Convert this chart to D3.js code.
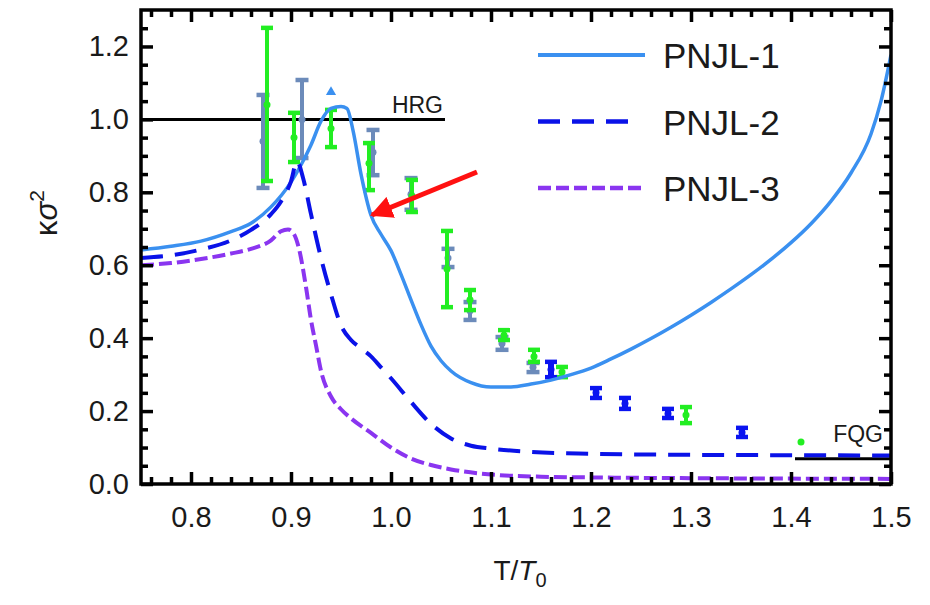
<!DOCTYPE html>
<html>
<head>
<meta charset="utf-8">
<script src="https://cdn.jsdelivr.net/npm/d3@7"></script>
<style>
  body { margin: 0; background: #fff; }
  text { font-family: "Liberation Sans", Arial, sans-serif; fill: #1a1a1a; }
</style>
</head>
<body>
<div id="chart"></div>
<script>
// axis ticks
const tTicks = [0.8, 0.9, 1.0, 1.1, 1.2, 1.3, 1.4, 1.5];
const kTicks = [0.0, 0.2, 0.4, 0.6, 0.8, 1.0, 1.2];
const tMinor = [0.76, 0.78, 0.82, 0.84, 0.86, 0.88, 0.92, 0.94, 0.96, 0.98, 1.02, 1.04, 1.06, 1.08,
  1.12, 1.14, 1.16, 1.18, 1.22, 1.24, 1.26, 1.28, 1.32, 1.34, 1.36, 1.38, 1.42, 1.44, 1.46, 1.48];
const kMinor = [0.05, 0.1, 0.15, 0.25, 0.3, 0.35, 0.45, 0.5, 0.55, 0.65, 0.7, 0.75, 0.85, 0.9, 0.95,
  1.05, 1.1, 1.15, 1.25];

// model curves [T/T0, kappa sigma^2]
const pnjl1 = [[0.75,0.642],[0.78,0.652],[0.81,0.666],[0.84,0.692],[0.86,0.715],[0.88,0.76],[0.90,0.828],
  [0.91,0.875],[0.92,0.93],[0.93,0.995],[0.94,1.03],[0.95,1.035],[0.956,1.03],[0.962,0.97],[0.97,0.85],
  [0.98,0.737],[0.99,0.685],[1.00,0.64],[1.01,0.575],[1.02,0.505],[1.03,0.437],[1.04,0.378],[1.05,0.338],
  [1.06,0.31],[1.08,0.278],[1.10,0.266],[1.12,0.266],[1.14,0.274],[1.16,0.285],[1.18,0.3],[1.20,0.318],
  [1.22,0.343],[1.24,0.37],[1.26,0.399],[1.28,0.43],[1.30,0.463],[1.32,0.498],[1.34,0.535],[1.36,0.574],
  [1.38,0.616],[1.40,0.662],[1.42,0.714],[1.44,0.776],[1.46,0.853],[1.48,0.96],[1.49,1.05],[1.50,1.177]];
const pnjl2 = [[0.75,0.62],[0.78,0.627],[0.81,0.643],[0.84,0.668],[0.86,0.697],[0.88,0.74],[0.89,0.775],
  [0.90,0.83],[0.906,0.885],[0.912,0.84],[0.92,0.74],[0.93,0.62],[0.94,0.52],[0.95,0.435],[0.96,0.395],
  [0.97,0.372],[0.98,0.35],[0.99,0.32],[1.00,0.29],[1.02,0.225],[1.04,0.165],[1.06,0.125],[1.08,0.105],
  [1.10,0.097],[1.14,0.088],[1.20,0.083],[1.30,0.08],[1.40,0.079],[1.50,0.078]];
const pnjl3 = [[0.75,0.6],[0.78,0.606],[0.81,0.617],[0.84,0.632],[0.86,0.645],[0.88,0.668],[0.89,0.693],
  [0.897,0.698],[0.903,0.685],[0.908,0.645],[0.915,0.54],[0.92,0.45],[0.925,0.38],[0.93,0.31],[0.94,0.24],
  [0.95,0.205],[0.96,0.18],[0.98,0.14],[1.00,0.1],[1.02,0.07],[1.04,0.052],[1.06,0.04],[1.10,0.026],
  [1.15,0.02],[1.20,0.018],[1.30,0.016],[1.50,0.014]];

// data points [T/T0, value, low, high]
const greenPts = [[0.876,1.04,0.831,1.251],[0.903,0.95,0.883,1.018],[0.94,0.975,0.924,1.026],
  [0.978,0.88,0.806,0.935],[1.021,0.79,0.746,0.834],[1.056,0.59,0.485,0.694],[1.079,0.505,0.477,0.532],
  [1.113,0.408,0.395,0.422],[1.143,0.35,0.335,0.368],[1.171,0.307,0.293,0.321],[1.295,0.189,0.167,0.211],
  [1.41,0.115,0.115,0.115]];
const grayPts = [[0.872,0.94,0.812,1.067],[0.911,1.0,0.894,1.108],[0.982,0.91,0.847,0.971],
  [1.02,0.795,0.752,0.839],[1.057,0.62,0.595,0.645],[1.079,0.475,0.45,0.499],[1.111,0.385,0.368,0.403],
  [1.142,0.32,0.307,0.332]];
const bluePts = [[1.16,0.314,0.293,0.335],[1.205,0.25,0.236,0.263],[1.234,0.221,0.206,0.236],
  [1.277,0.193,0.181,0.206],[1.351,0.141,0.129,0.154]];
const starPt = [0.94, 1.075];

// limits
const hrgLine = [[0.75, 1.0], [1.054, 1.0]];
const fqgLine = [[1.404, 0.069], [1.5, 0.069]];

const legendNames = ["PNJL-1", "PNJL-2", "PNJL-3"];

const width = 930, height = 605;
const margin = { top: 10, right: 39, bottom: 121, left: 141 };

const svg = d3.select("#chart").append("svg")
  .attr("width", width).attr("height", height);

const x = d3.scaleLinear().domain([0.75, 1.5]).range([margin.left, width - margin.right]);
const y = d3.scaleLinear().domain([0, 1.3]).range([height - margin.bottom, margin.top]);

svg.append("clipPath").attr("id", "clip").append("rect")
  .attr("x", x(0.75)).attr("y", y(1.3))
  .attr("width", x(1.5) - x(0.75)).attr("height", y(0) - y(1.3));

const plot = svg.append("g").attr("clip-path", "url(#clip)");

const line = d3.line().x(d => x(d[0])).y(d => y(d[1])).curve(d3.curveMonotoneX);

// HRG / FQG lines
[hrgLine, fqgLine].forEach(l => {
  plot.append("path").attr("d", d3.line().x(d => x(d[0])).y(d => y(d[1]))(l))
    .attr("stroke", "#000").attr("stroke-width", 3).attr("fill", "none");
});

// error bars
function errorBars(data, color, cap, sw) {
  const g = plot.append("g").attr("stroke", color).attr("fill", color);
  data.forEach(d => {
    const cx = x(d[0]);
    if (d[2] !== d[3]) {
      g.append("line").attr("x1", cx).attr("x2", cx).attr("y1", y(d[2])).attr("y2", y(d[3])).attr("stroke-width", sw);
      [d[2], d[3]].forEach(v => {
        g.append("line").attr("x1", cx - cap / 2).attr("x2", cx + cap / 2)
          .attr("y1", y(v)).attr("y2", y(v)).attr("stroke-width", 4.5);
      });
    }
    g.append("circle").attr("cx", cx).attr("cy", y(d[1])).attr("r", 3.5).attr("stroke", "none");
  });
}
errorBars(grayPts, "#6c8bba", 13, 4);
errorBars(greenPts, "#22ee22", 12, 4);
errorBars(bluePts, "#0a14f0", 12, 6);

plot.append("path")
  .attr("d", d3.symbol(d3.symbolTriangle, 45)())
  .attr("transform", `translate(${x(starPt[0])},${y(starPt[1])})`)
  .attr("fill", "#3a90f0");

// model curves
const styles = [
  { data: pnjl1, color: "#3a90f0", dash: null, w: 3.5 },
  { data: pnjl2, color: "#0a12e8", dash: "22,12", w: 4 },
  { data: pnjl3, color: "#8a35f0", dash: "13,5", w: 4 }
];
styles.forEach(s => {
  plot.append("path").attr("d", line(s.data))
    .attr("fill", "none").attr("stroke", s.color)
    .attr("stroke-width", s.w).attr("stroke-dasharray", s.dash);
});

svg.append("text").attr("x", x(1.054) - 2).attr("y", y(1.0) - 6)
  .attr("text-anchor", "end").style("font-size", "23px").text("HRG");
svg.append("text").attr("x", x(1.5) - 8).attr("y", y(0.069) - 17)
  .attr("text-anchor", "end").style("font-size", "23px").text("FQG");

// red arrow
svg.append("defs").append("marker").attr("id", "arrow")
  .attr("viewBox", "0 0 10 10").attr("refX", 9).attr("refY", 5)
  .attr("markerWidth", 4.5).attr("markerHeight", 4.5).attr("orient", "auto")
  .append("path").attr("d", "M0,0L10,5L0,10z").attr("fill", "#ff1111");
svg.append("line").attr("x1", 477).attr("y1", 172).attr("x2", 372).attr("y2", 215)
  .attr("stroke", "#ff1111").attr("stroke-width", 5).attr("marker-end", "url(#arrow)");

// axes: labels on bottom/left, inward ticks on all four sides
function tickAxis(axisFn, scale, pos, labels) {
  const g = svg.append("g").attr("transform", pos);
  g.append("g").call(axisFn(scale).tickValues(scale === x ? tMinor : kMinor).tickSizeInner(-7).tickSizeOuter(0).tickFormat(() => ""));
  g.append("g").call(axisFn(scale).tickValues(scale === x ? tTicks : kTicks).tickSizeInner(-12).tickSizeOuter(0)
    .tickPadding(labels ? (scale === x ? 22 : 12) : 0)
    .tickFormat(labels ? d3.format(".1f") : () => ""));
  g.selectAll(".domain").remove();
  g.selectAll(".tick line").attr("stroke", "#000").attr("stroke-width", 3.5);
  g.selectAll(".tick text").style("font-size", "29px").attr("fill", "#1a1a1a");
}
tickAxis(d3.axisBottom, x, `translate(0,${y(0)})`, true);
tickAxis(d3.axisTop, x, `translate(0,${y(1.3)})`, false);
tickAxis(d3.axisLeft, y, `translate(${x(0.75)},0)`, true);
tickAxis(d3.axisRight, y, `translate(${x(1.5)},0)`, false);

// frame
svg.append("rect")
  .attr("x", x(0.75)).attr("y", y(1.3))
  .attr("width", x(1.5) - x(0.75)).attr("height", y(0) - y(1.3))
  .attr("fill", "none").attr("stroke", "#000").attr("stroke-width", 3.5);

// legend
const lg = svg.append("g");
styles.forEach((s, i) => {
  const ly = 55 + i * 66.5;
  lg.append("line").attr("x1", 538).attr("x2", s.dash === "22,12" ? 633 : 645)
    .attr("y1", ly).attr("y2", ly)
    .attr("stroke", s.color).attr("stroke-width", s.w + 0.5).attr("stroke-dasharray", s.dash);
  lg.append("text").attr("x", 663).attr("y", ly + 13).style("font-size", "35px").text(legendNames[i]);
});

// axis titles
const xt = svg.append("text").attr("x", 520).attr("y", 580).attr("text-anchor", "middle").style("font-size", "28px");
xt.append("tspan").text("T/");
xt.append("tspan").style("font-style", "italic").text("T");
xt.append("tspan").attr("dy", 7).style("font-size", "20px").text("0");

const yt = svg.append("text").attr("transform", "translate(57,213) rotate(-90)")
  .attr("text-anchor", "middle").style("font-size", "31px");
yt.append("tspan").text("κ");
yt.append("tspan").style("font-style", "italic").text("σ");
yt.append("tspan").attr("dy", -13).style("font-size", "21px").text("2");
</script>
</body>
</html>
